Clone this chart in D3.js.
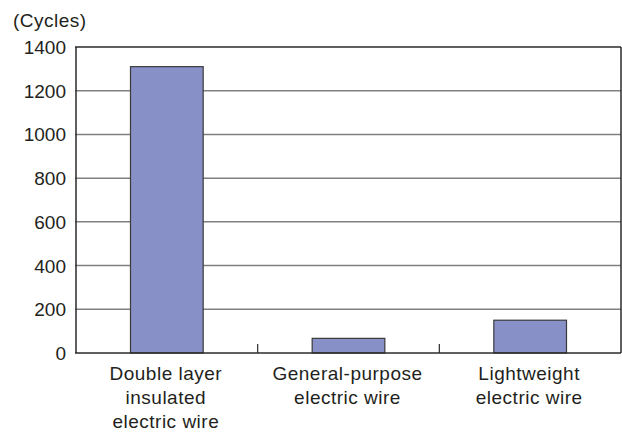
<!DOCTYPE html>
<html>
<head>
<meta charset="utf-8">
<script src="https://cdn.jsdelivr.net/npm/d3@7"></script>
<style>
  html, body { margin: 0; padding: 0; background: #fff; }
  svg text { font-family: "Liberation Sans", Arial, Helvetica, sans-serif; fill: #231f20; }
</style>
</head>
<body>
<svg id="chart" width="622" height="433"></svg>
<script>
// Durability by wire type (bending cycles until failure)
const categories = [
  ["Double layer", "insulated", "electric wire"],
  ["General-purpose", "electric wire"],
  ["Lightweight", "electric wire"]
];
const cycles = [1310, 67, 150];
const yTicks = [0, 200, 400, 600, 800, 1000, 1200, 1400];
const unitLabel = "(Cycles)";

const svg = d3.select("#chart");
const plotLeft = 76, plotRight = 621, plotTop = 47, plotBottom = 353;

const keys = categories.map(c => c.join(" "));
const x = d3.scaleBand().domain(keys).range([plotLeft, plotRight])
  .paddingInner(0.6).paddingOuter(0.3);
const y = d3.scaleLinear().domain([0, 1400]).range([plotBottom, plotTop]);

// horizontal grid lines
svg.append("g").selectAll("line").data(yTicks.filter(t => t > 0 && t < 1400)).join("line")
  .attr("x1", plotLeft - 1).attr("x2", plotRight)
  .attr("y1", d => y(d)).attr("y2", d => y(d))
  .attr("stroke", "#808080").attr("stroke-width", 1.5);

// bars
svg.append("g").selectAll("rect").data(cycles).join("rect")
  .attr("x", (d, i) => x(keys[i]))
  .attr("y", d => y(d))
  .attr("width", x.bandwidth())
  .attr("height", d => y(0) - y(d))
  .attr("fill", "#8890c8")
  .attr("stroke", "#3a3a3a").attr("stroke-width", 1.2);

// frame: top, right, left and base lines
const frame = svg.append("g").attr("stroke", "#2b2b2b").attr("stroke-width", 1.5).attr("fill", "none");
frame.append("line").attr("x1", plotLeft - 1).attr("x2", plotRight).attr("y1", y(1400)).attr("y2", y(1400));
frame.append("line").attr("x1", plotRight).attr("x2", plotRight).attr("y1", y(1400)).attr("y2", y(0));
frame.append("line").attr("x1", plotLeft).attr("x2", plotLeft).attr("y1", y(1400)).attr("y2", y(0));
frame.append("line").attr("x1", plotLeft - 1).attr("x2", plotRight).attr("y1", y(0)).attr("y2", y(0));

// category separators on the base line
const step = x.step();
frame.selectAll("line.sep").data(d3.range(1, keys.length)).join("line")
  .attr("class", "sep")
  .attr("x1", i => plotLeft + i * step).attr("x2", i => plotLeft + i * step)
  .attr("y1", y(0) - 9).attr("y2", y(0))
  .attr("stroke-width", 1.2);

// y tick labels
svg.append("g").selectAll("text").data(yTicks).join("text")
  .attr("x", 66).attr("y", d => y(d) + 7)
  .attr("text-anchor", "end")
  .attr("font-size", 19)
  .text(d => d);

// unit label
svg.append("text").attr("x", 13).attr("y", 27).attr("font-size", 19)
  .attr("letter-spacing", 0.5).text(unitLabel);

// category labels
const lab = svg.append("g").selectAll("text").data(categories).join("text")
  .attr("text-anchor", "middle")
  .attr("font-size", 19)
  .attr("letter-spacing", 0.5)
  .attr("x", (d, i) => x(keys[i]) + x.bandwidth() / 2 - 1)
  .attr("y", 380);
lab.selectAll("tspan").data(d => d).join("tspan")
  .attr("x", function() { return this.parentNode.getAttribute("x"); })
  .attr("dy", (d, j) => j === 0 ? 0 : 24)
  .text(d => d);
</script>
</body>
</html>
